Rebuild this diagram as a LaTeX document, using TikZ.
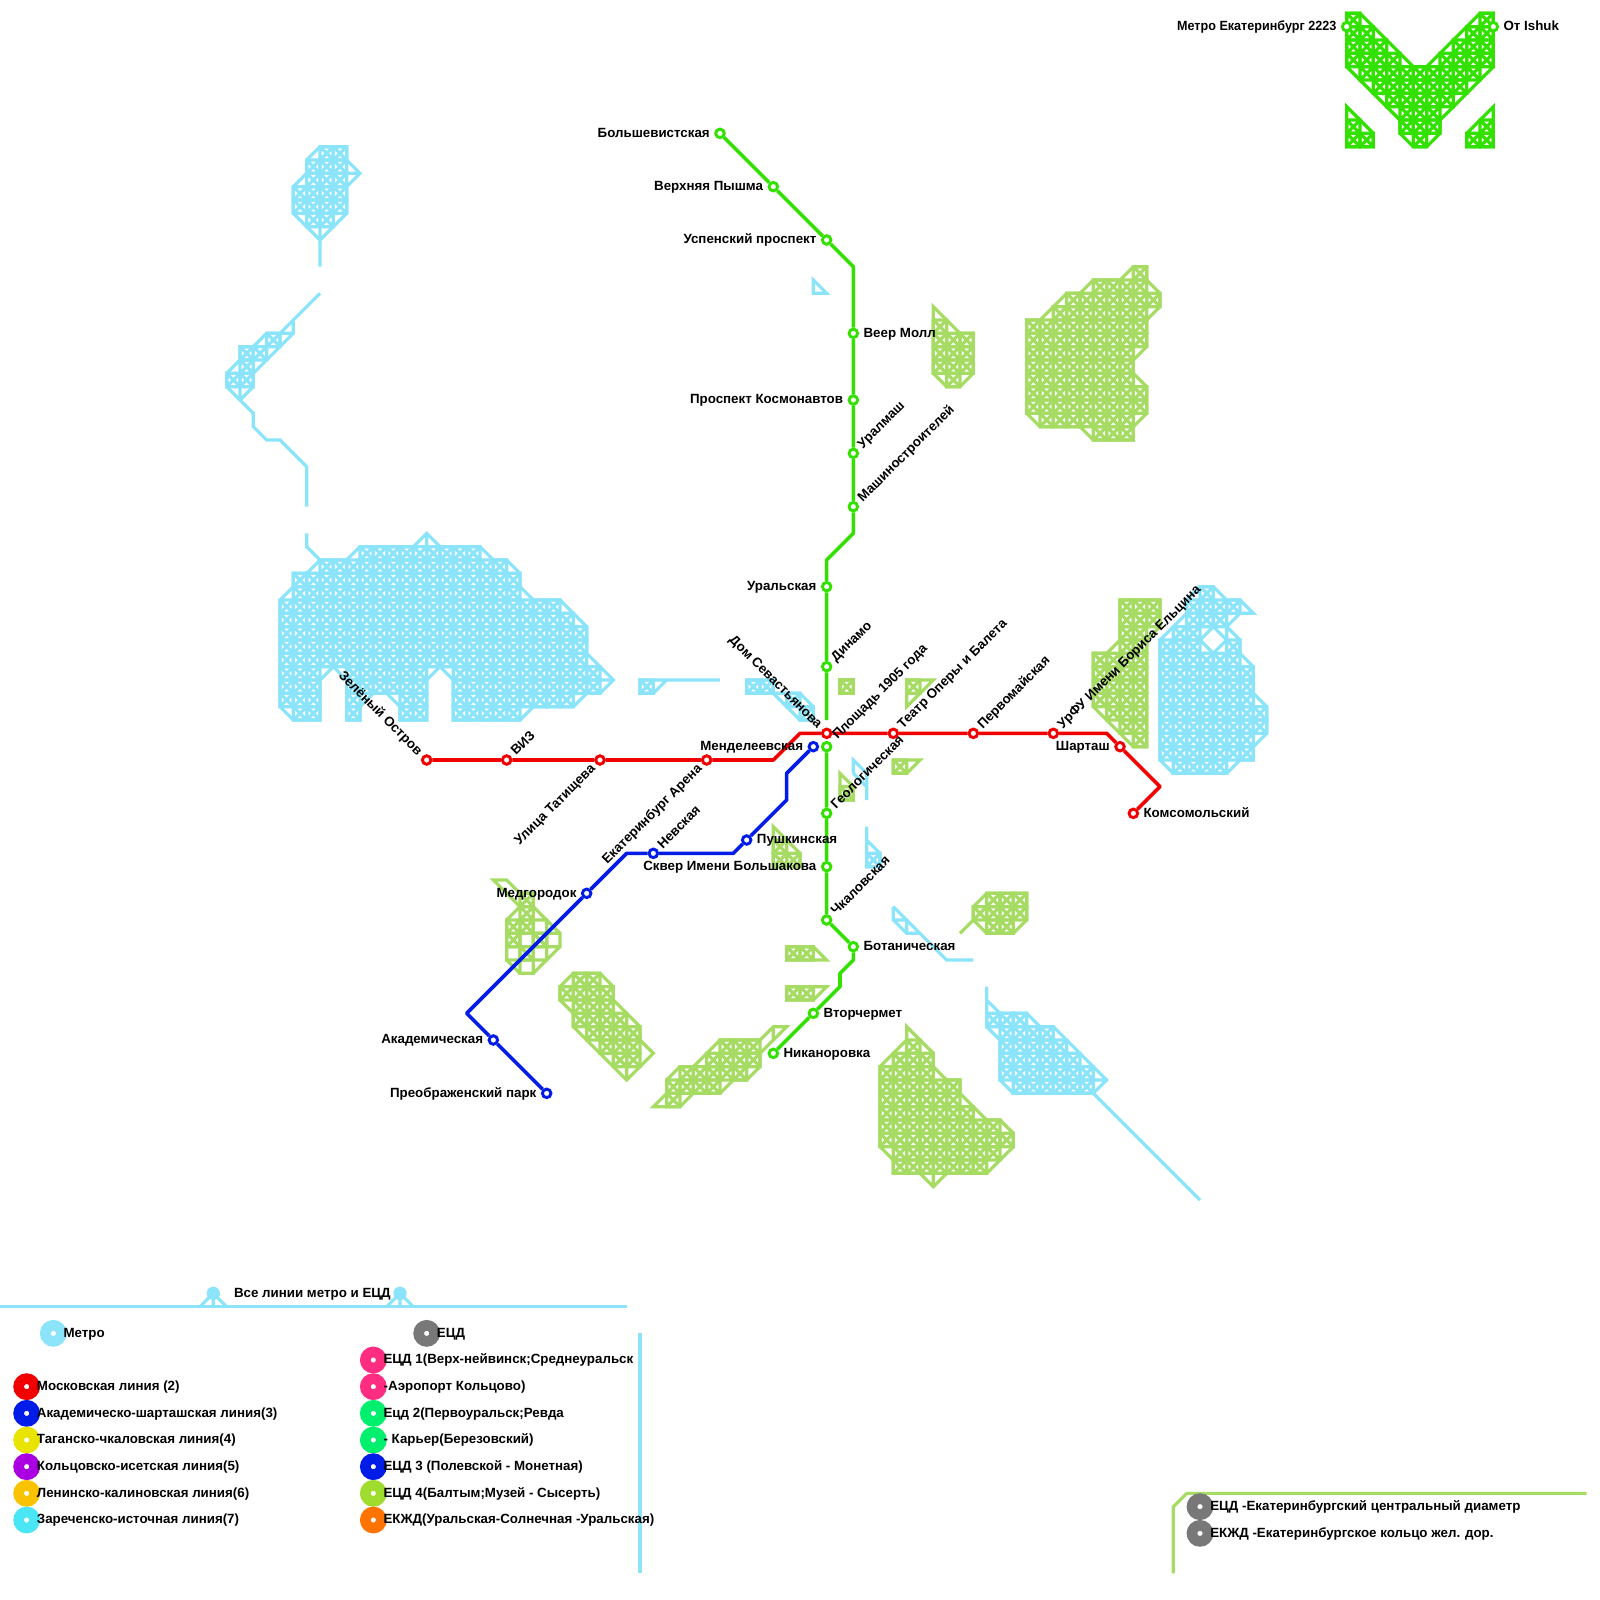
\documentclass[tikz,border=0pt]{standalone}
\usepackage{fontspec}
\setmainfont{Liberation Sans}
\usepackage{tikz}
\definecolor{tilecyan}{RGB}{139, 228, 249}
\definecolor{tilegreen}{RGB}{166, 220, 100}
\definecolor{linelime}{RGB}{50, 225, 0}
\definecolor{linered}{RGB}{240, 0, 0}
\definecolor{lineblue}{RGB}{0, 28, 230}
\definecolor{keyyellow}{RGB}{232, 228, 0}
\definecolor{keypurple}{RGB}{170, 0, 225}
\definecolor{keyorange}{RGB}{250, 195, 0}
\definecolor{keycyan}{RGB}{75, 230, 245}
\definecolor{keypink}{RGB}{255, 45, 130}
\definecolor{keyspring}{RGB}{0, 240, 110}
\definecolor{keygrass}{RGB}{160, 220, 45}
\definecolor{keycarrot}{RGB}{255, 115, 0}
\definecolor{keygrey}{RGB}{120, 120, 120}
\tikzset{
	tile/.style={draw=#1, line width=2.4pt},
	metroline/.style={draw=#1, line width=2.7pt, line join=round},
	station/.style={circle, draw=#1, fill=white, line width=2.2pt, minimum size=6.4pt, inner sep=0pt},
	keydot/.style={circle, draw=#1, fill=white, line width=8pt, minimum size=12pt, inner sep=0pt},
	plaintext/.style={font=\bfseries, inner sep=0pt, text height=5.7pt, text depth=0pt},
	textright/.style={plaintext, anchor=west, xshift=7.5pt},
	textleft/.style={plaintext, anchor=east, xshift=-7.5pt},
	textup/.style={plaintext, xshift=5pt, yshift=5pt, rotate=45, anchor=west},
	textbelow/.style={plaintext, xshift=-5pt, yshift=-5pt, rotate=45, anchor=east},
	textback/.style={plaintext, xshift=-5pt, yshift=5pt, rotate=-45, anchor=east},
}
% rows of crossed squares, then the outline round them
\newcommand{\tilearea}[3]{%
	\foreach \row/\from/\to in {#3} {
		\foreach \col in {\from,...,\to} {
			\draw[tile=#1] (\col,\row) rectangle ++(1,1) (\col,\row) -- ++(1,1) (\col,\row+1) -- ++(1,-1);
		}
	}
	\draw[tile=#1] #2;
}
\begin{document}
\begin{tikzpicture}[x=10pt, y=-10pt]
	\useasboundingbox (0,0) rectangle (120,120);

	% M in the corner
	\tilearea{linelime}{(101,1) -- (102,1) -- (106,5) -- (107,5) -- (111,1) -- (112,1) -- (112,5) -- (108,9) -- (108,10) -- (107,11) -- (106,11) -- (105,10) -- (105,9) -- (101,5) -- cycle}
		{1/101/101,1/111/111,2/101/102,2/110/111,3/101/103,3/109/111,4/101/104,4/108/111,5/102/110,6/103/109,7/104/108,8/105/107,9/105/107,10/106/106}
	\tilearea{linelime}{(101,8) -- (103,10) -- (103,11) -- (101,11) -- cycle}{9/101/101,10/101/102}
	\tilearea{linelime}{(112,8) -- (110,10) -- (110,11) -- (112,11) -- cycle}{9/111/111,10/110/111}

	% cyan areas, north-west
	\tilearea{tilecyan}{(24,11) -- (26,11) -- (26,12) -- (27,13) -- (26,14) -- (26,16) -- (24,18) -- (22,16) -- (22,14) -- (23,13) -- (23,12) -- cycle (26,13) -- (27,13) (24,17) -- (24,20)}
		{11/24/25,12/23/25,13/23/25,14/22/25,15/22/25,16/23/24}
	\tilearea{tilecyan}{(24,22) -- (22,24) -- (22,25) -- (19,28) -- (19,29) -- (18,30) -- (17,29) -- (17,28) -- (18,27) -- (18,26) -- (19,26) -- (20,25) -- (21,25) -- (22,24) (21,25) -- (22,25) (21,25) -- (21,26) (18,29) -- (18,30) -- (19,31) -- (19,32) -- (20,33) -- (21,33) -- (23,35) -- (23,38)}
		{25/20/20,26/18/19,27/18/18,28/17/18}
	\tilearea{tilecyan}{(24,42) -- (26,42) -- (27,41) -- (31,41) -- (32,40) -- (33,41) -- (36,41) -- (37,42) -- (38,42) -- (39,43) -- (39,44) -- (40,45) -- (42,45) -- (44,47) -- (44,49) -- (46,51) -- (45,52) -- (44,52) -- (43,53) -- (40,53) -- (39,54) -- (34,54) -- (34,51) -- (33,50) -- (32,51) -- (32,54) -- (30,54) -- (30,53) -- (29,52) -- (28,52) -- (27,53) -- (27,54) -- (26,54) -- (26,51) -- (25,50) -- (24,51) -- (24,54) -- (22,54) -- (21,53) -- (21,45) -- (22,44) -- (22,43) -- (23,43) -- cycle (32,40) -- (32,41) (45,51) -- (46,51) (23,40) -- (23,41) -- (24,42)}
		{41/27/35,42/24/37,43/22/38,44/22/38,45/21/41,46/21/42,47/21/43,48/21/43,49/21/43,50/21/23,50/26/31,50/34/44,51/21/23,51/26/31,51/34/44,52/21/23,52/26/26,52/30/31,52/34/42,53/22/23,53/26/26,53/30/31,53/34/38}

	% cyan areas, middle
	\draw[tile=tilecyan] (61,21) -- (62,22) -- (61,22) -- cycle;
	\tilearea{tilecyan}{(48,51) -- (50,51) -- (49,52) -- (48,52) -- cycle (50,51) -- (54,51)}{51/48/48}
	\tilearea{tilecyan}{(56,51) -- (58,51) -- (58,52) -- (60,52) -- (61,53) -- (61,54) -- (60,54) -- (58,52) -- (56,52) -- cycle}{51/56/57,52/59/59,53/60/60}
	\draw[tile=tilecyan] (64,58) -- (64,57) -- (65,58) -- (65,60) (64,58) -- (65,59);
	\tilearea{tilecyan}{(65,62) -- (65,65) -- (66,65) -- (66,64) -- (65,63)}{64/65/65}
	\draw[tile=tilecyan] (67,68) -- (67,69) -- (68,70) -- (69,70) (67,69) -- (68,69) -- (68,70) (67,68) -- (71,72) -- (73,72);

	% cyan areas, east and south-east
	\tilearea{tilecyan}{(90,44) -- (91,44) -- (92,45) -- (93,45) -- (94,46) -- (93,46) -- (92,47) -- (93,48) -- (93,49) -- (94,50) -- (94,52) -- (95,53) -- (95,55) -- (94,56) -- (94,57) -- (93,57) -- (92,58) -- (88,58) -- (87,57) -- (87,48) -- (89,46) -- (89,45) -- cycle (91,47) -- (92,48) -- (91,49) -- (90,48) -- cycle (92,47) -- (92,48)}
		{44/90/90,45/89/92,46/89/91,47/88/89,48/87/89,48/92/92,49/87/92,50/87/93,51/87/93,52/87/93,53/87/94,54/87/94,55/87/93,56/87/93,57/88/91}
	\tilearea{tilecyan}{(74,74) -- (74,75) -- (75,76) -- (77,76) -- (78,77) -- (79,77) -- (83,81) -- (82,82) -- (76,82) -- (75,81) -- (75,78) -- (74,77) -- (74,75) (82,81) -- (83,81) (82,82) -- (90,90)}
		{76/74/76,77/75/78,78/75/79,79/75/80,80/75/81,81/76/81}

	% green areas, north
	\tilearea{tilegreen}{(70,23) -- (72,25) -- (73,25) -- (73,28) -- (72,29) -- (71,29) -- (70,28) -- cycle}
		{24/70/70,25/70/72,26/70/72,27/70/72,28/71/71}
	\tilearea{tilegreen}{(77,24) -- (78,24) -- (80,22) -- (81,22) -- (82,21) -- (84,21) -- (85,20) -- (86,20) -- (86,21) -- (87,22) -- (87,23) -- (86,24) -- (86,26) -- (85,27) -- (85,28) -- (86,29) -- (86,31) -- (85,32) -- (85,33) -- (82,33) -- (81,32) -- (78,32) -- (77,31) -- cycle}
		{20/85/85,21/82/85,22/80/86,23/79/85,24/77/85,25/77/85,26/77/84,27/77/84,28/77/84,29/77/85,30/77/85,31/78/84,32/82/84}

	% green areas, middle
	\tilearea{tilegreen}{(63,51) rectangle (64,52)}{51/63/63}
	\tilearea{tilegreen}{(68,51) -- (70,51) -- (68,53) -- cycle}{51/68/68}
	\tilearea{tilegreen}{(67,57) -- (69,57) -- (68,58) -- (67,58) -- cycle}{57/67/67}
	\tilearea{tilegreen}{(63,58) -- (64,59) -- (64,60) -- (63,60) -- cycle}{59/63/63}
	\tilearea{tilegreen}{(58,62) -- (60,64) -- (60,65) -- (58,65) -- cycle}{63/58/58,64/58/59}
	\tilearea{tilegreen}{(84,45) -- (87,45) -- (87,47) -- (86,48) -- (86,56) -- (85,56) -- (82,53) -- (82,49) -- (83,49) -- (84,48) -- cycle}
		{45/84/86,46/84/86,47/84/85,48/84/85,49/82/85,50/82/85,51/82/85,52/82/85,53/83/85,54/84/85,55/85/85}

	% green areas, south
	\tilearea{tilegreen}{(37,66) -- (38,66) -- (39,67) -- (40,67) -- (40,68) -- (42,70) -- (42,71) -- (40,73) -- (39,73) -- (38,72) -- (38,69) -- (39,68) -- cycle (40,69) rectangle (41,70) (41,70) rectangle (42,71) (39,70) rectangle (40,71) (38,71) rectangle (39,72) (40,71) rectangle (41,72) (39,72) rectangle (40,73)}
		{67/39/39,68/39/39,69/38/39,70/38/38,70/40/40,71/39/39}
	\tilearea{tilegreen}{(43,73) -- (45,73) -- (46,74) -- (46,75) -- (48,77) -- (48,78) -- (49,79) -- (47,81) -- (43,77) -- (43,76) -- (42,75) -- (42,74) -- cycle (47,80) -- (47,81)}
		{73/43/44,74/42/45,75/43/45,76/43/46,77/44/47,78/45/47,79/46/47}
	\tilearea{tilegreen}{(56,81) -- (55,81) -- (54,82) -- (52,82) -- (51,83) -- (49,83) -- (50,82) -- (50,81) -- (51,80) -- (52,80) -- (54,78) -- (57,78) -- (58,77) -- (59,77) -- (57,79) -- (57,80) -- cycle (58,77) -- (58,78)}
		{78/54/56,79/53/56,80/51/55,81/50/53,82/50/50}
	\tilearea{tilegreen}{(59,71) -- (61,71) -- (62,72) -- (59,72) -- cycle}{71/59/60}
	\tilearea{tilegreen}{(59,74) -- (62,74) -- (61,75) -- (59,75) -- cycle}{74/59/60}
	\tilearea{tilegreen}{(72,70) -- (73,69) -- (73,68) -- (74,67) -- (77,67) -- (77,69) -- (76,70) -- (74,70) -- (73,69)}
		{67/74/76,68/73/76,69/74/75}
	\tilearea{tilegreen}{(68,77) -- (70,79) -- (70,80) -- (71,81) -- (72,81) -- (72,82) -- (74,84) -- (75,84) -- (76,85) -- (76,86) -- (74,88) -- (71,88) -- (70,89) -- (69,88) -- (67,88) -- (67,87) -- (66,86) -- (66,80) -- (68,78) -- cycle (70,88) -- (70,89)}
		{78/68/68,79/67/69,80/66/69,81/66/71,82/66/71,83/66/72,84/66/74,85/66/75,86/67/74,87/67/73}

	% green line stations
	\node[station=linelime] (bolshevik) at (54,10) {};
	\node[station=linelime] (pyshma) at (58,14) {};
	\node[station=linelime] (uspensky) at (62,18) {};
	\node[station=linelime] (veer) at (64,25) {};
	\node[station=linelime] (kosmonavt) at (64,30) {};
	\node[station=linelime] (uralmash) at (64,34) {};
	\node[station=linelime] (mashin) at (64,38) {};
	\node[station=linelime] (uralskaya) at (62,44) {};
	\node[station=linelime] (dinamo) at (62,50) {};
	\node[station=linelime] (square) at (62,56) {};
	\node[station=linelime] (geolog) at (62,61) {};
	\node[station=linelime] (bolshakov) at (62,65) {};
	\node[station=linelime] (chkalov) at (62,69) {};
	\node[station=linelime] (botanic) at (64,71) {};
	\node[station=linelime] (vtorchermet) at (61,76) {};
	\node[station=linelime] (nikanor) at (58,79) {};
	\node[station=linelime] (metrocity) at (101,2) {};
	\node[station=linelime] (ishuk) at (112,2) {};

	% red line stations
	\node[station=linered] (zeleny) at (32,57) {};
	\node[station=linered] (viz) at (38,57) {};
	\node[station=linered] (tatishchev) at (45,57) {};
	\node[station=linered] (arena) at (53,57) {};
	\node[station=linered] (ploshchad) at (62,55) {};
	\node[station=linered] (teatr) at (67,55) {};
	\node[station=linered] (pervomay) at (73,55) {};
	\node[station=linered] (urfu) at (79,55) {};
	\node[station=linered] (shartash) at (84,56) {};
	\node[station=linered] (komsomol) at (85,61) {};

	% blue line stations
	\node[station=lineblue] (mendeleev) at (61,56) {};
	\node[station=lineblue] (pushkin) at (56,63) {};
	\node[station=lineblue] (nevskaya) at (49,64) {};
	\node[station=lineblue] (medgorodok) at (44,67) {};
	\node[station=lineblue] (akadem) at (37,78) {};
	\node[station=lineblue] (preobr) at (41,82) {};

	% bends
	\coordinate (limeA) at (64,20);
	\coordinate (limeB) at (64,40);
	\coordinate (limeC) at (62,42);
	\coordinate (limeD) at (62,54);
	\coordinate (limeE) at (64,72);
	\coordinate (limeF) at (63,73);
	\coordinate (limeG) at (63,74);
	\coordinate (redA) at (58,57);
	\coordinate (redB) at (60,55);
	\coordinate (redC) at (83,55);
	\coordinate (redD) at (87,59);
	\coordinate (blueA) at (59,58);
	\coordinate (blueB) at (59,60);
	\coordinate (blueC) at (55,64);
	\coordinate (blueD) at (47,64);
	\coordinate (blueE) at (35,76);

	\draw[metroline=linelime] (bolshevik) -- (pyshma) -- (uspensky) -- (limeA) -- (veer) -- (kosmonavt) -- (uralmash) -- (mashin) -- (limeB) -- (limeC) -- (uralskaya) -- (dinamo) -- (limeD);
	\draw[metroline=linelime] (square) -- (geolog) -- (bolshakov) -- (chkalov) -- (botanic) -- (limeE) -- (limeF) -- (limeG) -- (vtorchermet) -- (nikanor);
	\draw[metroline=linered] (zeleny) -- (viz) -- (tatishchev) -- (arena) -- (redA) -- (redB) -- (ploshchad) -- (teatr) -- (pervomay) -- (urfu) -- (redC) -- (shartash) -- (redD) -- (komsomol);
	\draw[metroline=lineblue] (mendeleev) -- (blueA) -- (blueB) -- (pushkin) -- (blueC) -- (nevskaya) -- (blueD) -- (medgorodok) -- (blueE) -- (akadem) -- (preobr);

	% station names
	\node[textleft] (bolshevikname) at (bolshevik) {Большевистская};
	\node[textleft] (pyshmaname) at (pyshma) {Верхняя Пышма};
	\node[textleft] (uspenskyname) at (uspensky) {Успенский проспект};
	\node[textright] (veername) at (veer) {Веер Молл};
	\node[textleft] (kosmonavtname) at (kosmonavt) {Проспект Космонавтов};
	\node[textup] (uralmashname) at (uralmash) {Уралмаш};
	\node[textup] (mashinname) at (mashin) {Машиностроителей};
	\node[textleft] (uralskayaname) at (uralskaya) {Уральская};
	\node[textup] (dinamoname) at (dinamo) {Динамо};
	\node[textback] (squarename) at (ploshchad) {Дом Севастьянова};
	\node[textup] (geologname) at (geolog) {Геологическая};
	\node[textleft] (bolshakovname) at (bolshakov) {Сквер Имени Большакова};
	\node[textup] (chkalovname) at (chkalov) {Чкаловская};
	\node[textright] (botanicname) at (botanic) {Ботаническая};
	\node[textright] (vtorchermetname) at (vtorchermet) {Вторчермет};
	\node[textright] (nikanorname) at (nikanor) {Никаноровка};
	\node[textleft] (metrocityname) at (metrocity) {\scalebox{0.945}[1]{Метро Екатеринбург 2223}};
	\node[textright] (ishukname) at (ishuk) {От Ishuk};
	\node[textback] (zelenyname) at (zeleny) {Зелёный Остров};
	\node[textup] (vizname) at (viz) {ВИЗ};
	\node[textbelow] (tatishchevname) at (tatishchev) {Улица Татищева};
	\node[textbelow] (arenaname) at (arena) {Екатеринбург Арена};
	\node[plaintext, xshift=6pt, yshift=-3pt, rotate=45, anchor=west] (ploshchadname) at (ploshchad) {Площадь 1905 года};
	\node[textup] (teatrname) at (teatr) {Театр Оперы и Балета};
	\node[textup] (pervomayname) at (pervomay) {Первомайская};
	\node[textup] (urfuname) at (urfu) {УрФУ Имени Бориса Ельцина};
	\node[textleft] (shartashname) at (shartash) {Шарташ};
	\node[textright] (komsomolname) at (komsomol) {Комсомольский};
	\node[textleft] (mendeleevname) at (mendeleev) {Менделеевская};
	\node[textright] (pushkinname) at (pushkin) {Пушкинская};
	\node[textup] (nevskayaname) at (nevskaya) {Невская};
	\node[textleft] (medgorodokname) at (medgorodok) {Медгородок};
	\node[textleft] (akademname) at (akadem) {Академическая};
	\node[textleft] (preobrname) at (preobr) {Преображенский парк};

	% key, header
	\draw[tile=tilecyan] (0,98) -- (47,98);
	\draw[tile=tilecyan] (15,98) -- (16,97) -- (17,98) (16,97) -- (16,98);
	\draw[tile=tilecyan] (29,98) -- (30,97) -- (31,98) (30,97) -- (30,98);
	\node[circle, fill=tilecyan, minimum size=10pt, inner sep=0pt] (headleft) at (16,97) {};
	\node[circle, fill=tilecyan, minimum size=10pt, inner sep=0pt] (headright) at (30,97) {};
	\node[plaintext, anchor=west, xshift=15.3pt] (headname) at (headleft) {Все линии метро и ЕЦД};
	\draw[tile=tilecyan] (48,100) -- (48,118);

	% key, left column
	\node[keydot=tilecyan] (keymetro) at (4,100) {};
	\node[keydot=linered] (keytwo) at (2,104) {};
	\node[keydot=lineblue] (keythree) at (2,106) {};
	\node[keydot=keyyellow] (keyfour) at (2,108) {};
	\node[keydot=keypurple] (keyfive) at (2,110) {};
	\node[keydot=keyorange] (keysix) at (2,112) {};
	\node[keydot=keycyan] (keyseven) at (2,114) {};
	\node[textright] (keymetroname) at (keymetro) {Метро};
	\node[textright] (keytwoname) at (keytwo) {Московская линия (2)};
	\node[textright] (keythreename) at (keythree) {Академическо-шарташская линия(3)};
	\node[textright] (keyfourname) at (keyfour) {Таганско-чкаловская линия(4)};
	\node[textright] (keyfivename) at (keyfive) {Кольцовско-исетская линия(5)};
	\node[textright] (keysixname) at (keysix) {Ленинско-калиновская линия(6)};
	\node[textright] (keysevenname) at (keyseven) {Зареченско-источная линия(7)};

	% key, right column
	\node[keydot=keygrey] (keyecd) at (32,100) {};
	\node[keydot=keypink] (keyecdone) at (28,102) {};
	\node[keydot=keypink] (keyecdair) at (28,104) {};
	\node[keydot=keyspring] (keyecdtwo) at (28,106) {};
	\node[keydot=keyspring] (keyecdpit) at (28,108) {};
	\node[keydot=lineblue] (keyecdthree) at (28,110) {};
	\node[keydot=keygrass] (keyecdfour) at (28,112) {};
	\node[keydot=keycarrot] (keyring) at (28,114) {};
	\node[textright] (keyecdname) at (keyecd) {ЕЦД};
	\node[textright] (keyecdonename) at (keyecdone) {ЕЦД 1(Верх-нейвинск;Среднеуральск};
	\node[textright] (keyecdairname) at (keyecdair) {-Аэропорт Кольцово)};
	\node[textright] (keyecdtwoname) at (keyecdtwo) {Ецд 2(Первоуральск;Ревда};
	\node[textright] (keyecdpitname) at (keyecdpit) {- Карьер(Березовский)};
	\node[textright] (keyecdthreename) at (keyecdthree) {ЕЦД 3 (Полевской - Монетная)};
	\node[textright] (keyecdfourname) at (keyecdfour) {ЕЦД 4(Балтым;Музей - Сысерть)};
	\node[textright] (keyringname) at (keyring) {ЕКЖД(Уральская-Солнечная -Уральская)};

	% key, bottom right
	\draw[tile=tilegreen] (88,118) -- (88,113) -- (89,112) -- (119,112);
	\node[keydot=keygrey] (noteecd) at (90,113) {};
	\node[keydot=keygrey] (notering) at (90,115) {};
	\node[textright] (noteecdname) at (noteecd) {ЕЦД -Екатеринбургский центральный диаметр};
	\node[textright] (noteringname) at (notering) {ЕКЖД -Екатеринбургское кольцо жел. дор.};
\end{tikzpicture}
\end{document}
